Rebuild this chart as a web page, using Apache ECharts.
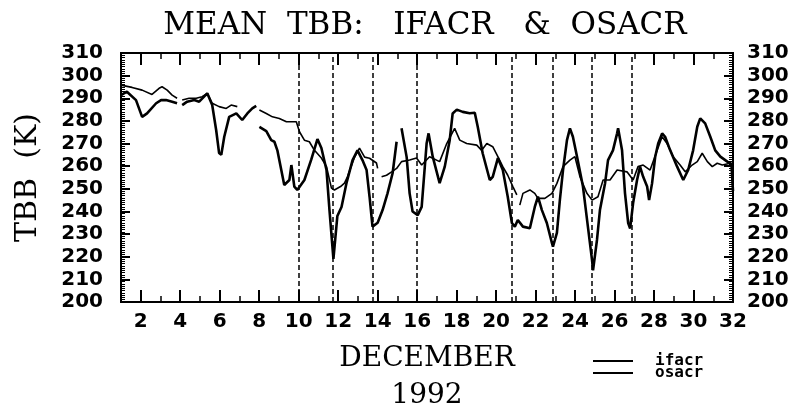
<!DOCTYPE html>
<html>
<head>
<meta charset="utf-8">
<script src="https://cdn.jsdelivr.net/npm/echarts@6/dist/echarts.min.js"></script>
<style>
html,body{margin:0;padding:0;background:#fff;}
#c{width:797px;height:409px;}
</style>
</head>
<body>
<div id="c"></div>
<script>
// ---- data (day of December 1992, mean TBB in K); null = data gap ----
const ifacr = [
[1.00,291.4],[1.30,292.9],[1.76,289.2],[2.07,281.8],[2.32,283.3],[2.78,287.8],[3.03,289.2],[3.28,289.2],[3.59,288.5],[3.84,287.8],[3.97,null],
[4.10,287.0],[4.35,288.5],[4.71,289.2],[4.96,288.5],[5.37,292.2],[5.62,287.0],[5.82,276.0],[5.97,265.8],[6.08,265.0],[6.23,273.0],[6.48,281.8],[6.84,283.3],[7.14,280.4],[7.40,283.3],[7.65,285.5],[7.85,286.6],[7.93,null],
[8.01,277.4],[8.36,275.5],[8.61,271.5],[8.77,270.8],[8.92,267.0],[9.27,251.7],[9.53,253.9],[9.63,260.5],[9.78,251.0],[9.93,249.5],[10.29,253.9],[10.64,263.0],[10.95,272.0],[11.15,268.0],[11.41,258.3],[11.56,240.6],[11.76,219.0],[11.96,238.0],[12.17,242.0],[12.42,252.5],[12.73,262.7],[12.98,267.0],[13.23,262.7],[13.44,258.3],[13.59,246.5],[13.74,233.3],[14.00,235.0],[14.25,240.6],[14.50,248.0],[14.76,257.0],[14.96,270.8],[15.08,null],
[15.21,276.8],[15.47,264.0],[15.62,248.0],[15.77,240.0],[16.03,238.4],[16.23,242.0],[16.48,270.0],[16.58,274.5],[16.79,264.2],[17.14,252.5],[17.40,259.8],[17.65,271.5],[17.80,283.3],[18.01,285.0],[18.31,284.0],[18.66,283.4],[18.92,283.6],[19.07,277.4],[19.32,265.7],[19.68,253.9],[19.83,255.3],[20.09,263.6],[20.34,258.3],[20.59,246.5],[20.80,234.9],[20.95,233.3],[21.10,236.2],[21.36,233.3],[21.71,232.6],[21.96,242.0],[22.12,246.5],[22.32,240.6],[22.57,234.9],[22.83,226.0],[22.88,224.4],[23.08,230.5],[23.23,245.0],[23.39,258.3],[23.59,271.5],[23.74,276.7],[23.89,273.0],[24.10,264.2],[24.40,251.0],[24.65,233.3],[24.86,218.5],[24.91,214.0],[25.11,227.4],[25.26,240.6],[25.52,252.5],[25.67,262.7],[25.92,267.0],[26.13,274.5],[26.18,276.8],[26.38,267.0],[26.53,248.0],[26.69,234.9],[26.79,232.5],[26.94,243.7],[27.14,253.9],[27.29,259.8],[27.45,255.3],[27.65,251.0],[27.75,245.0],[27.90,252.4],[28.06,264.2],[28.21,270.0],[28.41,274.5],[28.56,273.0],[28.82,267.0],[29.17,259.8],[29.48,253.9],[29.73,258.3],[29.98,267.0],[30.19,277.4],[30.34,281.1],[30.59,278.9],[30.85,273.0],[31.10,267.0],[31.36,264.2],[31.71,262.0],[31.92,261.0],[32.00,249.0]
];
const osacr = [
[1.00,295.8],[1.56,294.8],[2.07,293.6],[2.57,291.7],[2.93,294.4],[3.08,295.1],[3.34,293.6],[3.59,291.4],[3.84,290.0],[3.97,null],
[4.10,289.2],[4.45,290.0],[4.81,290.0],[5.11,290.7],[5.37,292.2],[5.62,287.8],[5.97,286.3],[6.33,285.5],[6.58,287.0],[6.89,286.3],[7.40,null],
[8.01,284.8],[8.36,283.3],[8.67,281.8],[9.02,281.1],[9.38,279.6],[9.88,279.6],[10.04,275.2],[10.29,271.5],[10.54,270.8],[10.80,267.0],[11.15,263.6],[11.41,259.8],[11.66,250.3],[11.81,249.5],[12.12,251.0],[12.32,252.5],[12.47,255.3],[12.83,264.0],[13.08,268.0],[13.34,264.0],[13.59,263.5],[13.94,261.4],[14.00,259.0],[14.10,null],
[14.20,255.3],[14.45,256.0],[14.71,257.5],[14.96,259.0],[15.21,262.0],[15.62,262.7],[15.97,263.6],[16.23,260.5],[16.63,264.2],[17.14,262.0],[17.50,270.0],[17.90,276.7],[18.16,271.5],[18.51,270.0],[19.02,269.3],[19.27,267.0],[19.53,270.0],[19.83,268.6],[20.09,264.2],[20.34,259.8],[20.59,256.0],[20.85,251.0],[21.05,247.3],[21.12,null],
[21.20,242.8],[21.36,248.0],[21.71,249.5],[21.96,248.0],[22.12,245.8],[22.47,245.8],[22.83,248.0],[23.08,252.4],[23.39,259.8],[23.74,262.7],[23.99,264.2],[24.25,255.3],[24.60,248.0],[24.86,245.0],[25.16,246.5],[25.42,253.9],[25.77,253.9],[26.13,258.3],[26.63,257.5],[26.94,253.9],[27.19,259.8],[27.45,260.5],[27.80,258.3],[28.16,267.0],[28.41,273.0],[28.66,270.0],[28.97,264.2],[29.32,260.5],[29.58,257.5],[29.93,260.5],[30.19,262.0],[30.44,265.7],[30.70,262.0],[30.95,259.8],[31.20,261.3],[31.46,260.5],[31.86,261.3],[32.00,258.3]
];
const eventDays = [10, 11.75, 13.75, 16, 20.8, 22.85, 24.85, 26.85];
const dayLabels = [2,4,6,8,10,12,14,16,18,20,22,24,26,28,30,32];
const tbbRange = [200, 310];

// ---- chart ----
const chart = echarts.init(document.getElementById('c'), null, {renderer: 'canvas'});
const BLACK = '#000';
const tickFont = {fontFamily: 'DejaVu Sans', fontWeight: 'bold', fontSize: 20, color: BLACK};

function xAx(position, major, withLabels) {
  const ax = {
    type: 'value', position: position, min: 1, max: 32, interval: 1,
    axisLine: {show: true, onZero: false, lineStyle: {color: BLACK, width: 2}},
    splitLine: {show: false},
    axisTick: {show: true, inside: true, length: major ? 12 : 6, lineStyle: {color: BLACK, width: major ? 2 : 1.5}},
    axisLabel: {show: false}
  };
  if (major) ax.axisTick.customValues = dayLabels;
  if (withLabels) {
    ax.axisLabel = Object.assign({show: true, margin: 10, customValues: dayLabels}, tickFont);
  }
  return ax;
}
function yAx(position, margin) {
  return {
    type: 'value', position: position, min: tbbRange[0], max: tbbRange[1], interval: 10,
    axisLine: {show: true, onZero: false, lineStyle: {color: BLACK, width: 2}},
    splitLine: {show: false},
    axisTick: {show: true, inside: true, length: 9, lineStyle: {color: BLACK, width: 2}},
    minorTick: {show: true, splitNumber: 10, length: 4, lineStyle: {color: BLACK, width: 1}},
    axisLabel: Object.assign({show: true, margin: margin}, tickFont)
  };
}

const xBottomMajor = xAx('bottom', true, true);
xBottomMajor.name = 'DECEMBER\n1992';
xBottomMajor.nameLocation = 'middle';
xBottomMajor.nameGap = 38;
xBottomMajor.nameTextStyle = {fontFamily: 'DejaVu Serif', fontSize: 28, color: BLACK, lineHeight: 37};

const yLeft = yAx('left', 18);
yLeft.name = 'TBB  (K)';
yLeft.nameLocation = 'middle';
yLeft.nameRotate = 90;
yLeft.nameGap = 78;
yLeft.nameTextStyle = {fontFamily: 'DejaVu Serif', fontSize: 30, color: BLACK};

const option = {
  animation: false,
  backgroundColor: '#fff',
  title: {
    text: 'MEAN  TBB:   IFACR   &  OSACR',
    left: 420, top: 5, textAlign: 'center',
    textStyle: {fontFamily: 'DejaVu Serif', fontWeight: 'normal', fontSize: 31, color: BLACK}
  },
  grid: {left: 121, right: 64, top: 53, bottom: 107, containLabel: false, outerBoundsMode: 'none'},
  legend: {
    orient: 'vertical', left: 593, top: 353, padding: 0, itemWidth: 40, itemHeight: 2, itemGap: -4,
    icon: 'rect',
    data: [
      {name: 'ifacr'},
      {name: 'osacr'}
    ],
    itemStyle: {color: BLACK},
    textStyle: {fontFamily: 'DejaVu Sans Mono', fontWeight: 'bold', fontSize: 16, color: BLACK, padding: [0, 0, 0, 17], lineHeight: 13}
  },
  xAxis: [xAx('bottom', false, false), xBottomMajor, xAx('top', false, false), xAx('top', true, false)],
  yAxis: [yLeft, yAx('right', 14)],
  series: [
    {
      name: 'ifacr', type: 'line', xAxisIndex: 0, yAxisIndex: 0,
      data: ifacr, showSymbol: false, symbol: 'none', connectNulls: false,
      lineStyle: {color: BLACK, width: 2.6}, itemStyle: {color: BLACK},
      z: 3,
      markLine: {
        silent: true, symbol: ['none', 'none'], label: {show: false},
        lineStyle: {color: BLACK, width: 1.5, type: [5, 3]},
        data: eventDays.map(d => ({xAxis: d}))
      }
    },
    {
      name: 'osacr', type: 'line', xAxisIndex: 0, yAxisIndex: 0,
      data: osacr, showSymbol: false, symbol: 'none', connectNulls: false,
      lineStyle: {color: BLACK, width: 1.6}, itemStyle: {color: BLACK},
      z: 3
    }
  ]
};
chart.setOption(option);
</script>
</body>
</html>
